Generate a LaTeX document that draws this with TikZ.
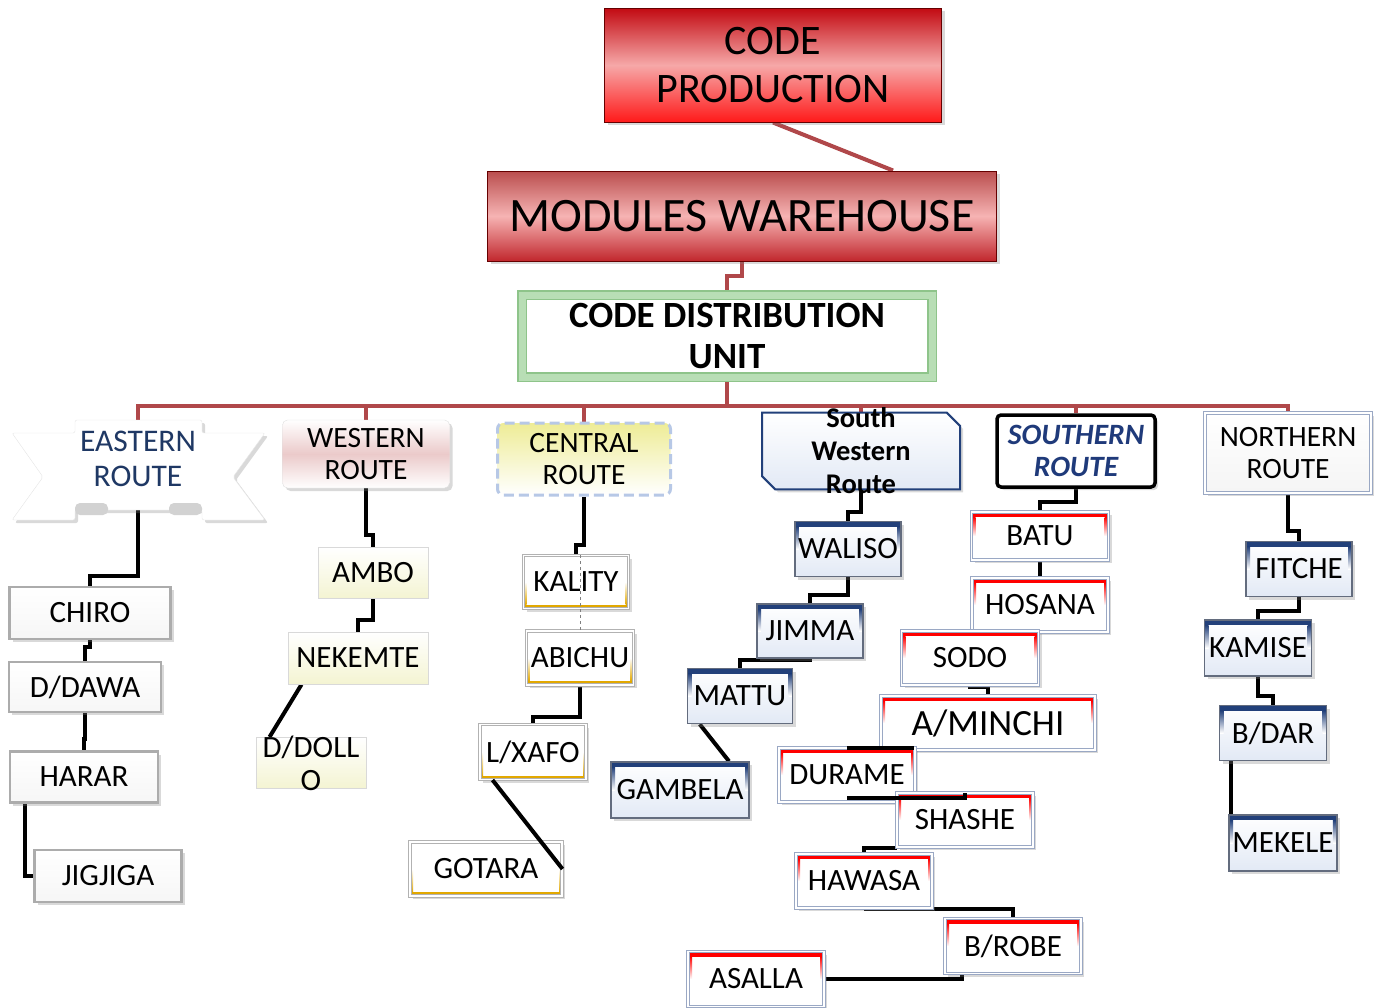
\documentclass[tikz,border=0pt]{standalone}
\usepackage{fontspec}
\setmainfont{Carlito}
\usepackage{tikz}
\usetikzlibrary{backgrounds}
\usetikzlibrary{shadows}
\usetikzlibrary{shapes.misc}
\definecolor{trunkred}{HTML}{B0484A}
\definecolor{prodtop}{HTML}{C20A12}
\definecolor{prodmid}{HTML}{F6A8A8}
\definecolor{prodbot}{HTML}{FF1A1A}
\definecolor{waretop}{HTML}{BA4E4E}
\definecolor{waremid}{HTML}{F6B3B3}
\definecolor{warebot}{HTML}{C1272D}
\definecolor{unitgreen}{HTML}{B8DEB5}
\definecolor{unitedge}{HTML}{8EC48A}
\definecolor{eastblue}{HTML}{1F3864}
\definecolor{southblue}{HTML}{1F3A7A}
\definecolor{navyedge}{HTML}{22407A}
\definecolor{westpink}{HTML}{EBCACA}
\definecolor{centyellow}{HTML}{EEEC96}
\definecolor{centblue}{HTML}{B7C8E6}
\definecolor{goldedge}{HTML}{E2A800}
\definecolor{leafblue}{HTML}{E2E9F5}
\definecolor{leafyellow}{HTML}{F4F4D2}
\definecolor{bluegray}{HTML}{9AA8C4}
\tikzset{
	softshadow/.style={drop shadow={shadow xshift=3pt,shadow yshift=-3pt,opacity=.3}},
	leaffont/.style={font=\fontsize{31}{33}\selectfont},
	routefont/.style={font=\fontsize{29.5}{32}\selectfont,align=center},
	topband/.style={path picture={
		\fill[#1] (path picture bounding box.north west) rectangle ([yshift=-5]path picture bounding box.north east);
		\shade[top color=#1,bottom color=white] ([yshift=-5]path picture bounding box.north west) rectangle ([xshift=4]path picture bounding box.west);
		\shade[top color=#1,bottom color=white] ([yshift=-5]path picture bounding box.north east) rectangle ([xshift=-4]path picture bounding box.east);}},
	bottomband/.style={path picture={
		\fill[#1] (path picture bounding box.south west) rectangle ([yshift=4]path picture bounding box.south east);
		\shade[bottom color=#1,top color=white] ([yshift=4]path picture bounding box.south west) rectangle ([xshift=3]path picture bounding box.west);
		\shade[bottom color=#1,top color=white] ([yshift=4]path picture bounding box.south east) rectangle ([xshift=-3]path picture bounding box.east);}},
	prodstyle/.style={rectangle,draw=red!40!black,line width=1,top color=prodtop,bottom color=prodbot,middle color=prodmid,softshadow},
	warestyle/.style={rectangle,draw=red!40!black,line width=1,top color=waretop,bottom color=warebot,middle color=waremid,softshadow},
	unitstyle/.style={rectangle,draw=unitedge,line width=1.2,double=unitgreen,double distance=7,fill=white},
	ribbonstyle/.style={fill=white,draw=gray!20,rounded corners=2,softshadow},
	weststyle/.style={rectangle,rounded corners=5,draw=gray!25,top color=white,bottom color=white,middle color=westpink,softshadow,routefont},
	centstyle/.style={rectangle,rounded corners=6,draw=centblue,line width=3,dash pattern=on 10pt off 5pt,top color=centyellow,bottom color=white,routefont},
	swstyle/.style={chamfered rectangle,chamfered rectangle corners={north east,south west},chamfered rectangle xsep=10pt,draw=navyedge,line width=2,top color=white,bottom color=leafblue,softshadow,font=\fontsize{28.5}{33}\selectfont\bfseries,align=center,inner ysep=-8},
	southstyle/.style={rectangle,rounded corners=4,draw=black,line width=3.5,fill=white,softshadow,text=southblue,font=\fontsize{29.5}{32}\selectfont\bfseries\itshape,align=center},
	northstyle/.style={rectangle,draw=bluegray,double=white,double distance=1.5,line width=1.2,top color=white,bottom color=gray!8,softshadow,routefont},
	eleaf/.style={rectangle,draw=gray!65,line width=2.5,top color=white,bottom color=gray!7,softshadow,leaffont},
	wleaf/.style={rectangle,draw=gray!30,line width=1,top color=white,bottom color=leafyellow,leaffont},
	cleaf/.style={rectangle,draw=gray!60,double=white,double distance=1.2,line width=1,fill=white,bottomband=goldedge,softshadow,leaffont},
	swleaf/.style={rectangle,draw=gray!70!navyedge,line width=1.5,top color=white,bottom color=leafblue,topband=navyedge,softshadow,leaffont},
	sleaf/.style={rectangle,draw=bluegray,double=white,double distance=1.2,line width=1,fill=white,topband=red,softshadow,leaffont},
	link/.style={line width=4,draw=black},
	trunk/.style={line width=4,draw=trunkred}
}

\begin{document}
\begin{tikzpicture}[x=1pt,y=-1pt]
\useasboundingbox (0,0) rectangle (1380,1007);

% head of the chain
\node[prodstyle,minimum width=337,minimum height=114,font=\fontsize{42}{48}\selectfont,align=center] (prod) at (773,65) {CODE\\PRODUCTION};
\node[warestyle,minimum width=509,minimum height=90,font=\fontsize{48}{52}\selectfont] (ware) at (742,216) {MODULES WAREHOUSE};
\node[unitstyle,minimum width=410,minimum height=82,font=\fontsize{37}{41}\selectfont\bfseries,align=center,inner ysep=0] (unit) at (727,336) {CODE DISTRIBUTION\\UNIT};

% routes
\path[ribbonstyle] (12,433) -- (75,433) -- (75,420) -- (202,420) -- (202,433) -- (265,433) -- (233,477) -- (265,520) -- (202,520) -- (202,510) -- (75,510) -- (75,520) -- (12,520) -- (43,477) -- cycle;
\fill[gray!35,rounded corners=5] (75,503) rectangle (108,515);
\fill[gray!35,rounded corners=5] (169,503) rectangle (202,515);
\node[text=eastblue,font=\fontsize{31.5}{35}\selectfont,align=center] (eastern) at (138,459) {EASTERN\\ROUTE};
\node[weststyle,minimum width=167,minimum height=68] (western) at (366,454) {WESTERN\\ROUTE};
\node[centstyle,minimum width=173,minimum height=72] (central) at (584,459) {CENTRAL\\ROUTE};
\node[swstyle,minimum width=198,minimum height=74] (swest) at (861,451) {South\\Western\\Route};
\node[southstyle,minimum width=158,minimum height=72] (southern) at (1076,451) {SOUTHERN\\ROUTE};
\node[northstyle,minimum width=166,minimum height=80] (northern) at (1288,453) {NORTHERN\\ROUTE};

% eastern
\node[eleaf,minimum width=161,minimum height=52] (chiro) at (90,613) {CHIRO};
\node[eleaf,minimum width=152,minimum height=50] (ddawa) at (85,687) {D/DAWA};
\node[eleaf,minimum width=148,minimum height=51] (harar) at (84,777) {HARAR};
\node[eleaf,minimum width=147,minimum height=52] (jigjiga) at (108,876) {JIGJIGA};

% western
\node[wleaf,minimum width=110,minimum height=51] (ambo) at (373,573) {AMBO};
\node[wleaf,minimum width=140,minimum height=52] (nekemte) at (358,658) {NEKEMTE};
\node[wleaf,minimum width=110,minimum height=51,align=center,inner ysep=-2] (ddollo) at (311,763) {D/DOLL\\O};

% central
\node[cleaf,minimum width=105,minimum height=53] (kality) at (576,582) {KALITY};
\node[cleaf,minimum width=107,minimum height=54] (abichu) at (580,658) {ABICHU};
\node[cleaf,minimum width=106,minimum height=55] (lxafo) at (533,752) {L/XAFO};
\node[cleaf,minimum width=152,minimum height=54] (gotara) at (486,869) {GOTARA};

% south western
\node[swleaf,minimum width=106,minimum height=55] (waliso) at (848,549) {WALISO};
\node[swleaf,minimum width=106,minimum height=54] (jimma) at (810,631) {JIMMA};
\node[swleaf,minimum width=105,minimum height=55] (mattu) at (740,696) {MATTU};
\node[swleaf,minimum width=138,minimum height=56] (gambela) at (680,790) {GAMBELA};

% southern
\node[sleaf,minimum width=137,minimum height=48] (batu) at (1040,536) {BATU};
\node[sleaf,minimum width=136,minimum height=54] (hosana) at (1040,605) {HOSANA};
\node[sleaf,minimum width=137,minimum height=54] (sodo) at (970,658) {SODO};
\node[sleaf,minimum width=214,minimum height=54,font=\fontsize{37}{40}\selectfont] (aminchi) at (988,723) {A/MINCHI};
\node[sleaf,minimum width=136,minimum height=54] (durame) at (847,775) {DURAME};
\node[sleaf,minimum width=136,minimum height=54] (shashe) at (965,820) {SHASHE};
\node[sleaf,minimum width=136,minimum height=54] (hawasa) at (864,881) {HAWASA};
\node[sleaf,minimum width=136,minimum height=55] (brobe) at (1013,946) {B/ROBE};
\node[sleaf,minimum width=136,minimum height=55] (asalla) at (756,979) {ASALLA};

% northern
\node[swleaf,minimum width=106,minimum height=55] (fitche) at (1299,569) {FITCHE};
\node[swleaf,minimum width=107,minimum height=56] (kamise) at (1258,648) {KAMISE};
\node[swleaf,minimum width=107,minimum height=55] (bdar) at (1273,733) {B/DAR};
\node[swleaf,minimum width=107,minimum height=56] (mekele) at (1283,843) {MEKELE};

\begin{scope}[on background layer]
\draw[trunk] (prod.south) -- ([xshift=151]ware.north);
\draw[trunk] (ware.south) -- ++(0,14) -| (unit.north);
\foreach \r in {eastern,western,central,swest,southern,northern}
	\draw[trunk] (unit.south) -- ++(0,28) -| (\r.north);

\draw[link] (eastern.south) |- ([yshift=10]chiro.north) -- (chiro.north);
\draw[link] (chiro.south) |- ([yshift=14]ddawa.north) -- (ddawa.north);
\draw[link] (ddawa.south) |- ([yshift=11]harar.north) -- (harar.north);
\draw[link] ([xshift=16]harar.south west) |- (jigjiga.west);

\draw[link] (western.south) |- ([yshift=12]ambo.north) -- (ambo.north);
\draw[link] (ambo.south) |- ([yshift=12]nekemte.north) -- (nekemte.north);
\draw[link] ([xshift=14]nekemte.south west) -- ([xshift=14]ddollo.north west);

\draw[link] (central.south) |- ([yshift=10]kality.north) -- (kality.north);
\draw[link] (abichu.south) |- ([yshift=7]lxafo.north) -- (lxafo.north);

\draw[link] (swest.south) |- ([yshift=9]waliso.north) -- (waliso.north);
\draw[link] (waliso.south) |- ([yshift=8]jimma.north) -- (jimma.north);
\draw[link] (jimma.south) |- ([yshift=8]mattu.north) -- (mattu.north);
\draw[link] ([xshift=13]mattu.south west) -- ([xshift=49]gambela.north);

\draw[link] (southern.south) |- ([yshift=10]batu.north) -- (batu.north);
\draw[link] (batu.south) -- (hosana.north);
\draw[link] (sodo.south) |- ([yshift=9]aminchi.north) -- (aminchi.north);
\draw[link] (shashe.south west) -| (hawasa.north);
\draw[link] (hawasa.south) -| (brobe.north);
\draw[link] (asalla.east) -| ([xshift=-51]brobe.south);

\draw[link] (northern.south) |- ([yshift=10]fitche.north) -- (fitche.north);
\draw[link] (fitche.south) |- ([yshift=8]kamise.north) -- (kamise.north);
\draw[link] (kamise.south) |- ([yshift=9]bdar.north) -- (bdar.north);
\draw[link] ([xshift=12]bdar.south west) coordinate (bd) -- (bd |- mekele.north);
\end{scope}

% lines lying over the boxes
\draw[gray,thin,dashed] (abichu.north |- kality.north) -- (abichu.north);
\draw[link] ([xshift=13]lxafo.south west) -- (gotara.east);
\draw[link] (durame.north) -- ([xshift=-2]durame.north east);
\draw[link] (durame.south) ++(0,-5) -| (shashe.north);
\end{tikzpicture}
\end{document}
